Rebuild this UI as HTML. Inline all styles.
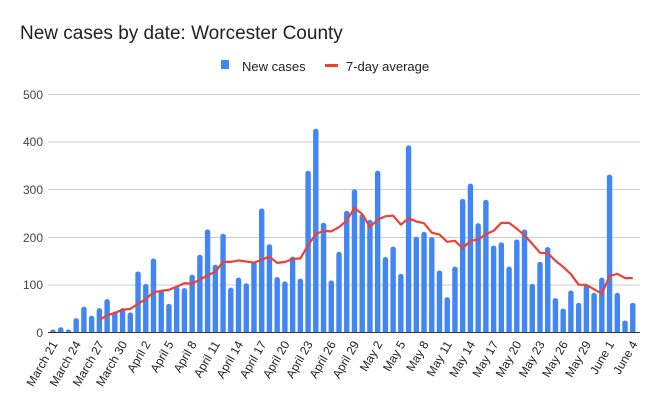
<!DOCTYPE html>
<html><head><meta charset="utf-8"><style>
html,body{margin:0;padding:0;background:#fff;}
svg{display:block;font-family:"Liberation Sans",Arial,sans-serif;}
</style></head><body>
<svg id="c" width="658" height="407" viewBox="0 0 658 407" xmlns="http://www.w3.org/2000/svg">
<defs><clipPath id="cp"><rect x="40" y="80" width="610" height="252.5"/></clipPath></defs>
<text x="20" y="39" font-size="19" fill="#222">New cases by date: Worcester County</text>
<rect x="221" y="60" width="8" height="9" fill="#4285f4"/>
<text x="242" y="71" font-size="13" fill="#222">New cases</text>
<rect x="325" y="64" width="13" height="3" fill="#ea4335"/>
<text x="346" y="71" font-size="13" fill="#222">7-day average</text>
<g stroke="#cccccc" stroke-width="1">
<line x1="48" x2="640" y1="94.5" y2="94.5"/>
<line x1="48" x2="640" y1="142" y2="142"/>
<line x1="48" x2="640" y1="189.5" y2="189.5"/>
<line x1="48" x2="640" y1="237.5" y2="237.5"/>
<line x1="48" x2="640" y1="285" y2="285"/>
</g>
<g font-size="12" fill="#444" text-anchor="end">
<text x="43" y="99">500</text>
<text x="43" y="146">400</text>
<text x="43" y="194">300</text>
<text x="43" y="242">200</text>
<text x="43" y="289">100</text>
<text x="43" y="337">0</text>
</g>
<g id="bars" clip-path="url(#cp)" fill="#4285f4"></g>
<polyline id="avg" fill="none" stroke="#ea4335" stroke-width="2.2" stroke-linejoin="round"/>
<line x1="48" x2="640" y1="332.5" y2="332.5" stroke="#333" stroke-width="1"/>
<g font-size="12" fill="#222" text-anchor="end">
<text transform="translate(58,344) rotate(-60)">March 21</text>
<text transform="translate(81.2,344) rotate(-60)">March 24</text>
<text transform="translate(104.4,344) rotate(-60)">March 27</text>
<text transform="translate(127.6,344) rotate(-60)">March 30</text>
<text transform="translate(150.8,344) rotate(-60)">April 2</text>
<text transform="translate(174,344) rotate(-60)">April 5</text>
<text transform="translate(197.1,344) rotate(-60)">April 8</text>
<text transform="translate(220.3,344) rotate(-60)">April 11</text>
<text transform="translate(243.5,344) rotate(-60)">April 14</text>
<text transform="translate(266.7,344) rotate(-60)">April 17</text>
<text transform="translate(289.9,344) rotate(-60)">April 20</text>
<text transform="translate(313.1,344) rotate(-60)">April 23</text>
<text transform="translate(336.3,344) rotate(-60)">April 26</text>
<text transform="translate(359.5,344) rotate(-60)">April 29</text>
<text transform="translate(382.7,344) rotate(-60)">May 2</text>
<text transform="translate(405.9,344) rotate(-60)">May 5</text>
<text transform="translate(429.1,344) rotate(-60)">May 8</text>
<text transform="translate(452.3,344) rotate(-60)">May 11</text>
<text transform="translate(475.5,344) rotate(-60)">May 14</text>
<text transform="translate(498.7,344) rotate(-60)">May 17</text>
<text transform="translate(521.9,344) rotate(-60)">May 20</text>
<text transform="translate(545.1,344) rotate(-60)">May 23</text>
<text transform="translate(568.3,344) rotate(-60)">May 26</text>
<text transform="translate(591.4,344) rotate(-60)">May 29</text>
<text transform="translate(614.6,344) rotate(-60)">June 1</text>
<text transform="translate(637.8,344) rotate(-60)">June 4</text>
</g>
</svg>
<script>
(function(){
var v=[2,11,2,30,54,35,51,70,44,51,42,128,102,155,89,60,96,93,121,163,216,142,207,94,115,103,148,260,185,116,107,159,113,339,427,230,109,169,255,300,248,236,339,158,180,123,392,201,211,200,130,74,138,280,312,229,278,182,189,138,195,216,102,148,179,72,50,88,62,100,83,115,331,83,25,62];
var ns="http://www.w3.org/2000/svg",g=document.getElementById("bars"),pts=[];
function X(i){return 53+7.73*i;}function Y(d){return 332.5-d*0.477;}
for(var i=0;i<v.length;i++){var r=document.createElementNS(ns,"rect");
var ty=Math.min(Y(v[i]),329.5);
r.setAttribute("x",X(i)-2.7);r.setAttribute("width",5.4);r.setAttribute("y",ty);
r.setAttribute("height",332.5-ty+4);r.setAttribute("rx",2.5);g.appendChild(r);
if(i>=6){var s=0;for(var k=i-6;k<=i;k++)s+=v[k];pts.push(X(i).toFixed(1)+","+Y(s/7).toFixed(1));}}
document.getElementById("avg").setAttribute("points",pts.join(" "));
})();
</script>
</body></html>
